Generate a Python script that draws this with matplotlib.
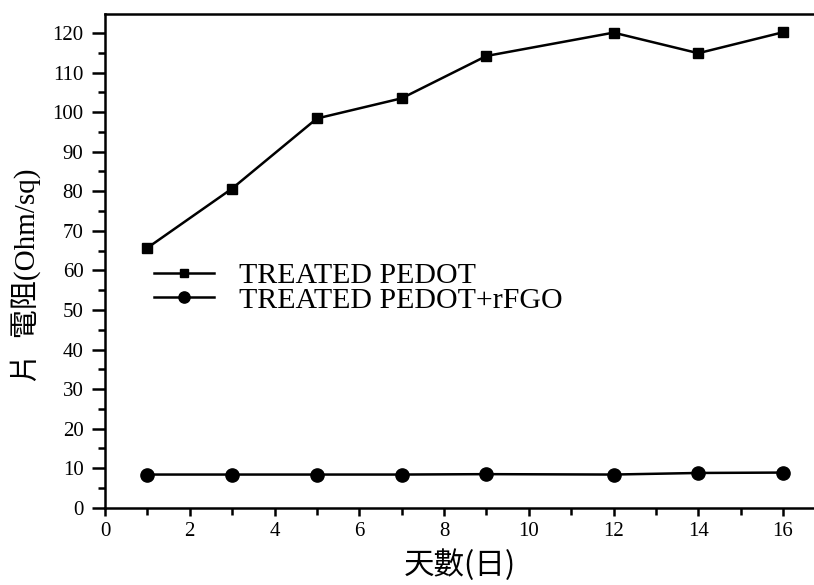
import matplotlib.pyplot as plt
from matplotlib.ticker import MultipleLocator

# measured sheet resistance over time
days = [1, 3, 5, 7, 9, 12, 14, 16]
pedot = [65.7, 80.7, 98.4, 103.5, 114.2, 120.1, 114.9, 120.2]
pedot_rfgo = [8.4, 8.4, 8.4, 8.4, 8.5, 8.4, 8.8, 8.9]
labels = ['TREATED PEDOT', 'TREATED PEDOT+rFGO']

serif = ['Liberation Serif', 'DejaVu Serif']
mixed = ['Liberation Serif', 'Noto Sans CJK TC']
cjk = ['Noto Sans CJK TC', 'DejaVu Sans']

fig = plt.figure(figsize=(8.14, 5.85), dpi=100)
ax = fig.add_axes([0.129, 0.132, 0.872, 0.844])

ax.plot(days, pedot, color='black', lw=1.8, marker='s', ms=7.5, label=labels[0])
ax.plot(days, pedot_rfgo, color='black', lw=1.8, marker='o', ms=9.5, label=labels[1])

ax.set_xlim(0, 16.75)
ax.set_ylim(0, 124.8)
ax.xaxis.set_major_locator(MultipleLocator(2))
ax.xaxis.set_minor_locator(MultipleLocator(1))
ax.yaxis.set_major_locator(MultipleLocator(10))
ax.yaxis.set_minor_locator(MultipleLocator(5))
ax.tick_params(which='both', direction='out', width=1.8, labelsize=15)
ax.tick_params(axis='y', which='major', length=9.5, pad=6)
ax.tick_params(axis='y', which='minor', length=5)
ax.tick_params(axis='x', which='major', length=5.5, pad=5)
ax.tick_params(axis='x', which='minor', length=5)
for lab in ax.get_xticklabels() + ax.get_yticklabels():
    lab.set_family(serif)

for side in ['left', 'bottom', 'top']:
    ax.spines[side].set_linewidth(1.8)
ax.spines['right'].set_visible(False)

ax.set_xlabel('天數(日)', family=cjk, fontsize=22, labelpad=6)
ax.set_ylabel('片  電阻(Ohm/sq)', family=mixed, fontsize=21)
ax.yaxis.set_label_coords(-0.09, 0.47)

leg = ax.legend(loc='upper left', bbox_to_anchor=(0.031, 0.552), frameon=False,
                prop={'family': serif, 'size': 21.5}, handlelength=2.0,
                handletextpad=0.85, labelspacing=-0.08, markerscale=0.85)

fig.savefig('out.png', dpi=100)
